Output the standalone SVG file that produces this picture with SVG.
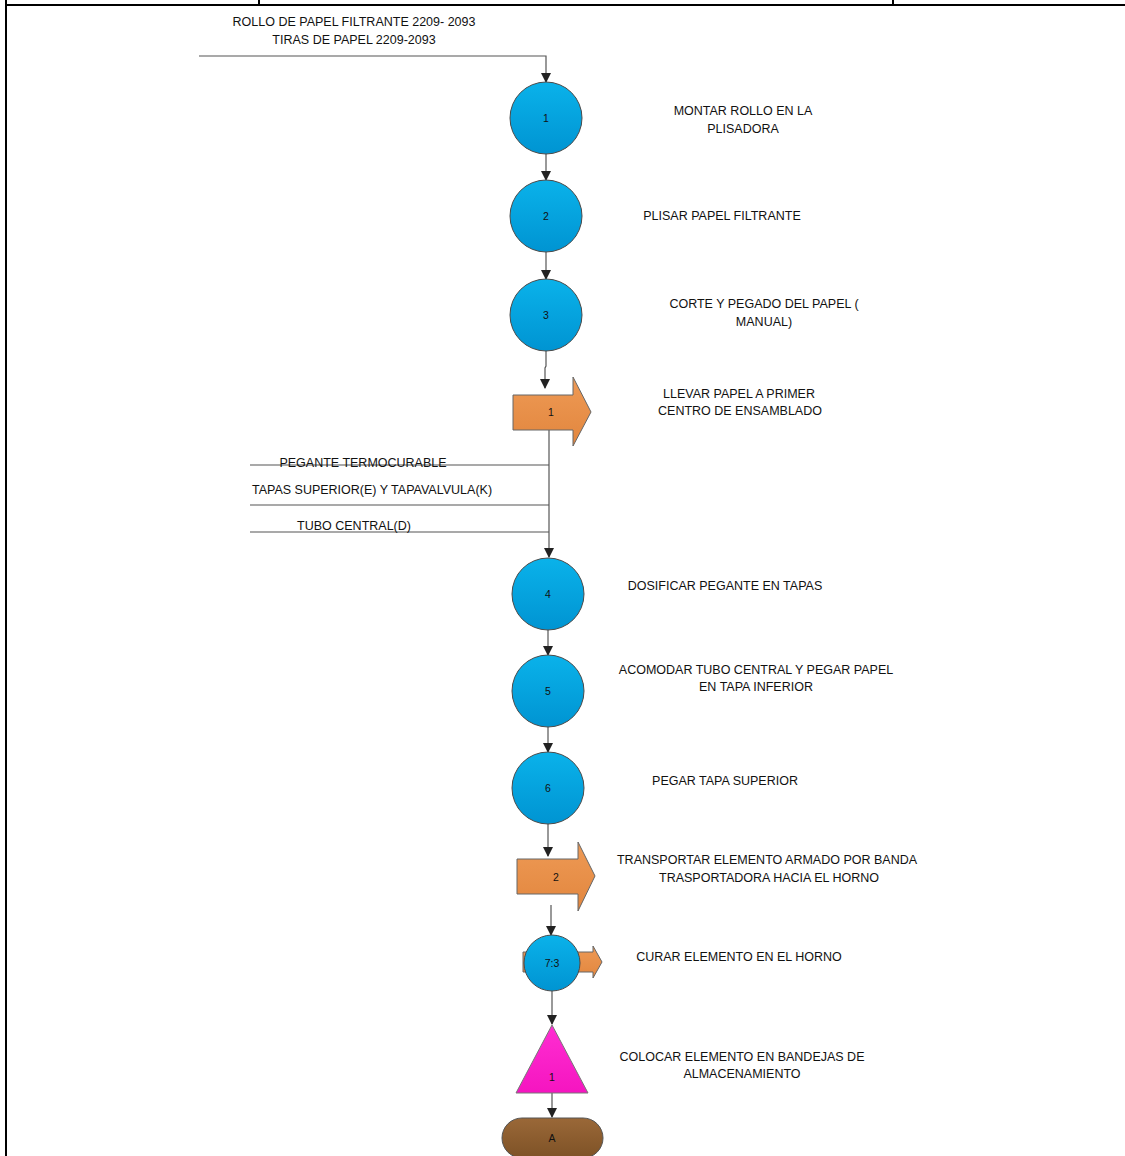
<svg xmlns="http://www.w3.org/2000/svg" width="1125" height="1156" viewBox="0 0 1125 1156">
  <defs>
    <linearGradient id="gBlue" x1="0" y1="0" x2="0" y2="1">
      <stop offset="0" stop-color="#0AB2EA"/>
      <stop offset="1" stop-color="#0094D2"/>
    </linearGradient>
    <linearGradient id="gOrange" x1="0" y1="0" x2="0" y2="1">
      <stop offset="0" stop-color="#EE9A55"/>
      <stop offset="1" stop-color="#E2863E"/>
    </linearGradient>
    <linearGradient id="gPink" x1="0" y1="0" x2="0" y2="1">
      <stop offset="0" stop-color="#FF2ED2"/>
      <stop offset="1" stop-color="#F515C0"/>
    </linearGradient>
    <linearGradient id="gBrown" x1="0" y1="0" x2="0" y2="1">
      <stop offset="0" stop-color="#9A6838"/>
      <stop offset="1" stop-color="#7E5226"/>
    </linearGradient>
    <marker id="arr" markerWidth="10" markerHeight="10" refX="9" refY="5" orient="auto" markerUnits="userSpaceOnUse">
      <path d="M0,0 L10,5 L0,10 Z" fill="#222"/>
    </marker>
  </defs>
  <style>
    .lbl { font-family: "Liberation Sans", Arial, sans-serif; font-size: 12.5px; fill: #111; text-anchor: middle; }
    .num { font-family: "Liberation Sans", Arial, sans-serif; font-size: 10.5px; fill: #111; text-anchor: middle; }
    .op { fill: url(#gBlue); stroke: #4a4a4a; stroke-width: 1; }
    .tr { fill: url(#gOrange); stroke: #666; stroke-width: 1; }
    .st { fill: url(#gPink); stroke: #777; stroke-width: 1; }
    .end { fill: url(#gBrown); stroke: #555; stroke-width: 1; }
    .ln { fill: none; stroke: #555; stroke-width: 1.2; }
    .frame { fill: none; stroke: #000; stroke-width: 2; }
  </style>

  <!-- page frame -->
  <g id="frame">
    <line class="frame" x1="6" y1="0" x2="6" y2="1156"/>
    <line class="frame" x1="5" y1="5" x2="1125" y2="5"/>
    <line class="frame" x1="259" y1="0" x2="259" y2="5"/>
    <line class="frame" x1="893" y1="0" x2="893" y2="5"/>
  </g>

  <!-- connectors -->
  <g id="connectors">
    <path class="ln" d="M199,56 H546 V82" marker-end="url(#arr)"/>
    <line class="ln" x1="546" y1="154" x2="546" y2="180" marker-end="url(#arr)"/>
    <line class="ln" x1="546" y1="252" x2="546" y2="279" marker-end="url(#arr)"/>
    <path class="ln" d="M546,351 L546,366 L545,368 V388" stroke="#111" marker-end="url(#arr)"/>
    <line class="ln" x1="549" y1="430" x2="549" y2="557" marker-end="url(#arr)"/>
    <line class="ln" x1="250" y1="465" x2="549" y2="465"/>
    <line class="ln" x1="250" y1="505" x2="549" y2="505"/>
    <line class="ln" x1="250" y1="532" x2="549" y2="532"/>
    <line class="ln" x1="548" y1="630" x2="548" y2="655" marker-end="url(#arr)"/>
    <line class="ln" x1="548" y1="727" x2="548" y2="752" marker-end="url(#arr)"/>
    <line class="ln" x1="548" y1="824" x2="548" y2="856" marker-end="url(#arr)"/>
    <line class="ln" x1="551" y1="905" x2="551" y2="935" marker-end="url(#arr)"/>
    <line class="ln" x1="552" y1="991" x2="552" y2="1024" marker-end="url(#arr)"/>
    <line class="ln" x1="552" y1="1093" x2="552" y2="1117" marker-end="url(#arr)"/>
  </g>

  <!-- input materials -->
  <g id="inputs">
    <text class="lbl" x="354" y="26">ROLLO DE PAPEL FILTRANTE 2209- 2093</text>
    <text class="lbl" x="354" y="44">TIRAS DE PAPEL 2209-2093</text>
    <text class="lbl" x="363" y="467">PEGANTE TERMOCURABLE</text>
    <text class="lbl" x="372" y="494">TAPAS SUPERIOR(E) Y TAPAVALVULA(K)</text>
    <text class="lbl" x="354" y="530">TUBO CENTRAL(D)</text>
  </g>

  <g id="op1">
    <circle class="op" cx="546" cy="118" r="36"/>
    <text class="num" x="546" y="122">1</text>
    <text class="lbl" x="743" y="115">MONTAR ROLLO EN LA</text>
    <text class="lbl" x="743" y="133">PLISADORA</text>
  </g>

  <g id="op2">
    <circle class="op" cx="546" cy="216" r="36"/>
    <text class="num" x="546" y="220">2</text>
    <text class="lbl" x="722" y="220">PLISAR PAPEL FILTRANTE</text>
  </g>

  <g id="op3">
    <circle class="op" cx="546" cy="315" r="36"/>
    <text class="num" x="546" y="319">3</text>
    <text class="lbl" x="764" y="308">CORTE Y PEGADO DEL PAPEL (</text>
    <text class="lbl" x="764" y="326">MANUAL)</text>
  </g>

  <g id="tr1">
    <path class="tr" d="M513,395 H573 V377 L591,412 L573,446 V430 H513 Z"/>
    <text class="num" x="551" y="416">1</text>
    <text class="lbl" x="739" y="398">LLEVAR PAPEL A PRIMER</text>
    <text class="lbl" x="740" y="415">CENTRO DE ENSAMBLADO</text>
  </g>

  <g id="op4">
    <circle class="op" cx="548" cy="594" r="36"/>
    <text class="num" x="548" y="598">4</text>
    <text class="lbl" x="725" y="590">DOSIFICAR PEGANTE EN TAPAS</text>
  </g>

  <g id="op5">
    <circle class="op" cx="548" cy="691" r="36"/>
    <text class="num" x="548" y="695">5</text>
    <text class="lbl" x="756" y="674">ACOMODAR TUBO CENTRAL Y PEGAR PAPEL</text>
    <text class="lbl" x="756" y="691">EN TAPA INFERIOR</text>
  </g>

  <g id="op6">
    <circle class="op" cx="548" cy="788" r="36"/>
    <text class="num" x="548" y="792">6</text>
    <text class="lbl" x="725" y="785">PEGAR TAPA SUPERIOR</text>
  </g>

  <g id="tr2">
    <path class="tr" d="M517,859 H578 V842 L595,876 L578,911 V894 H517 Z"/>
    <text class="num" x="556" y="881">2</text>
    <text class="lbl" x="767" y="864">TRANSPORTAR ELEMENTO ARMADO POR BANDA</text>
    <text class="lbl" x="769" y="882">TRASPORTADORA HACIA EL HORNO</text>
  </g>

  <g id="combo73">
    <path class="tr" d="M523,952 H593 V946 L602,962 L593,978 V972 H523 Z"/>
    <circle class="op" cx="552" cy="963" r="28"/>
    <text class="num" x="552" y="967">7:3</text>
    <text class="lbl" x="739" y="961">CURAR ELEMENTO EN EL HORNO</text>
  </g>

  <g id="store1">
    <path class="st" d="M552,1025 L588,1093 L516,1093 Z"/>
    <text class="num" x="552" y="1081">1</text>
    <text class="lbl" x="742" y="1061">COLOCAR ELEMENTO EN BANDEJAS DE</text>
    <text class="lbl" x="742" y="1078">ALMACENAMIENTO</text>
  </g>

  <g id="endA">
    <rect class="end" x="502" y="1118" width="101" height="40" rx="20" ry="20"/>
    <text class="num" x="552" y="1142">A</text>
  </g>
</svg>
